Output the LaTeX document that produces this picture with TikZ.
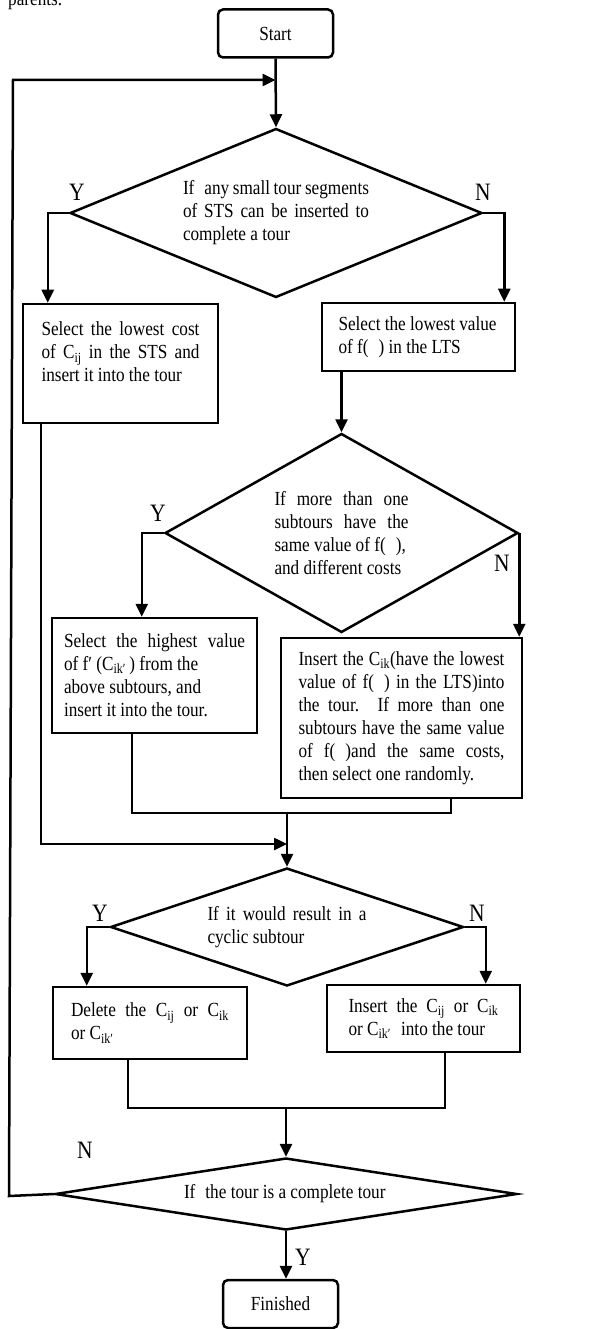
\documentclass[tikz,border=0pt]{standalone}
\usepackage{fontspec}
\setmainfont{Liberation Serif}[FakeStretch=0.86]
\usetikzlibrary{shapes.geometric,arrows.meta,calc}

\begin{document}
\begin{tikzpicture}[x=1pt,y=-1pt,line width=2.5pt,
    font=\fontsize{20}{23}\selectfont,
    terminal/.style={draw,rectangle,rounded corners=5pt,minimum width=115pt,minimum height=48pt,inner sep=0pt},
    stepbox/.style={draw,rectangle,align=justify,inner sep=0pt},
    decision/.style={draw,diamond,align=justify,inner sep=0pt},
    yn/.style={font=\fontsize{25}{25}\selectfont,inner sep=0pt},
    arr/.style={-{Triangle[length=13pt,width=12pt]}}]
  \useasboundingbox (0,0) rectangle (611,1329);
  \node[anchor=base west,inner sep=0pt] (parents) at (7,6) {parents.};
  \node[terminal] (start) at (275.5,33.5) {Start};
  \node[decision,text width=186pt,minimum width=412pt,minimum height=169pt,aspect=2.44] (ask1) at (276,213)
    {If\hspace{0.5em}any small tour segments\linebreak of STS can be inserted to\linebreak complete a tour};
  \node[stepbox,text width=158pt,minimum width=195pt,minimum height=119pt] (pick1) at (120.5,363.5)
    {Select the lowest cost\linebreak of C\textsubscript{ij} in the STS and\linebreak insert it into the tour\\ \mbox{}};
  \node[stepbox,text width=160pt,minimum width=193pt,minimum height=68pt] (pick2) at (418.5,337)
    {Select the lowest value\\of f(\hspace{0.5em}) in the LTS};
  \node[decision,text width=134pt,minimum width=353pt,minimum height=199pt,aspect=1.77] (ask2) at (341.5,533)
    {If more than one\linebreak subtours have the\linebreak same value of f(\hspace{0.5em}),\\and different costs};
  \node[stepbox,text width=181pt,minimum width=205pt,minimum height=115pt] (pick3) at (154.5,675.5)
    {Select the highest value\linebreak of f′\ (C\textsubscript{ik′}\,) from the\\above subtours, and\\insert it into the tour.};
  \node[stepbox,text width=206pt,minimum width=241pt,minimum height=160pt] (pick4) at (401.5,718)
    {Insert the C\textsubscript{ik}(have the lowest\linebreak value of f(\hspace{0.5em}) in the LTS)into\linebreak the tour. If more than one\linebreak subtours have the same value\linebreak of f(\hspace{0.5em})and the same costs,\linebreak then select one randomly.};
  \node[decision,text width=159pt,minimum width=353pt,minimum height=118pt,aspect=3] (ask3) at (287,927)
    {If it would result in a\linebreak cyclic subtour};
  \node[stepbox,text width=158pt,minimum width=194pt,minimum height=72pt] (drop) at (150,1023)
    {Delete the C\textsubscript{ij} or C\textsubscript{ik}\linebreak or C\textsubscript{ik′}};
  \node[stepbox,text width=150pt,minimum width=193pt,minimum height=67pt] (keep) at (423.5,1018.5)
    {Insert the C\textsubscript{ij} or C\textsubscript{ik}\linebreak or C\textsubscript{ik′}\hspace{0.5em}into the tour};
  \node[decision,text width=204pt,minimum width=462pt,minimum height=72pt,aspect=6.4] (ask4) at (286,1194)
    {If\hspace{0.5em}the tour is a complete tour};
  \node[terminal] (finish) at (280.5,1304) {Finished};
  \foreach \name/\txt/\x/\y in {yes1/Y/77/192,no1/N/483/192,yes2/Y/158/513,no2/N/502/563,
      yes3/Y/100/913,no3/N/477/913,no4/N/85/1150,yes4/Y/303/1257}
    \node[yn] (\name) at (\x,\y) {\txt};
  \coordinate (loopin) at (start.south |- 0,80);
  \coordinate (loopbot) at (9,1196);
  \coordinate (looptop) at (13,80);
  \coordinate (join1) at (ask3.north |- 0,813);
  \coordinate (feed) at (ask3.north |- 0,844);
  \coordinate (join2) at (ask4.north |- 0,1108);
  \draw[arr] (start.south) -- (ask1.north);
  \draw[arr] (ask4.west) -- (loopbot) -- (looptop) -- (loopin);
  \draw[arr] (ask1.west) -| ([xshift=26pt]pick1.north west);
  \draw[arr] (ask1.east) -| ([xshift=-12pt]pick2.north east);
  \draw[arr] (pick2.south -| ask2.north) -- (ask2.north);
  \draw[arr] (ask2.west) -| ([xshift=91pt]pick3.north west);
  \draw[arr] (ask2.east) -- (ask2.east |- pick4.north);
  \draw ([xshift=81pt]pick3.south west) |- (join1) -| ([xshift=171pt]pick4.south west);
  \draw[arr] ([xshift=19pt]pick1.south west) |- (feed);
  \draw[arr] (join1) -- (ask3.north);
  \draw[arr] (ask3.west) -| ([xshift=35pt]drop.north west);
  \draw[arr] (ask3.east) -| ([xshift=160pt]keep.north west);
  \draw ([xshift=76pt]drop.south west) |- (join2) -| ([xshift=119pt]keep.south west);
  \draw[arr] (join2) -- (ask4.north);
  \draw[arr] (ask4.south) -- (ask4.south |- finish.north);
\end{tikzpicture}
\end{document}
